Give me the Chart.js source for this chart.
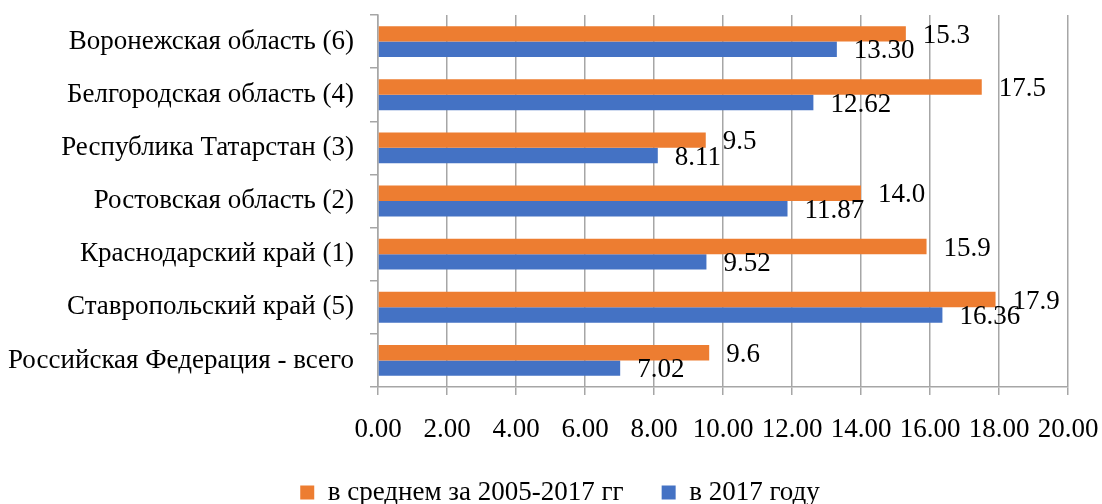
<!DOCTYPE html>
<html>
<head>
<meta charset="utf-8">
<script src="https://cdn.jsdelivr.net/npm/chart.js@4"></script>
<style>
html,body{margin:0;padding:0;background:#fff;}
#wrap{width:1102px;height:504px;position:relative;}
</style>
</head>
<body>
<div id="wrap"><canvas id="c" width="1102" height="504"></canvas></div>
<script>
const categories = [
  "Воронежская область (6)",
  "Белгородская область (4)",
  "Республика Татарстан (3)",
  "Ростовская область (2)",
  "Краснодарский край (1)",
  "Ставропольский край (5)",
  "Российская Федерация - всего"
];
const seriesNames = ["в среднем за 2005-2017 гг", "в 2017 году"];
const avgValues = [15.3, 17.5, 9.5, 14.0, 15.9, 17.9, 9.6];
const y2017Values = [13.30, 12.62, 8.11, 11.87, 9.52, 16.36, 7.02];
const labelDecimals = [1, 2];
const xMin = 0, xMax = 20, xStep = 2;

const FONT = "'Liberation Serif', 'Times New Roman', serif";
const GRID = '#a6a6a6';

const labelPlugin = {
  id: 'valueLabels',
  afterDatasetsDraw(chart) {
    const ctx = chart.ctx;
    ctx.save();
    ctx.font = '27px ' + FONT;
    ctx.fillStyle = '#000';
    ctx.textAlign = 'left';
    ctx.textBaseline = 'middle';
    chart.data.datasets.forEach((ds, di) => {
      const meta = chart.getDatasetMeta(di);
      meta.data.forEach((el, i) => {
        const v = ds.data[i];
        ctx.fillText(v.toFixed(labelDecimals[di]), el.x + 17, el.y + 2);
      });
    });
    ctx.restore();
  }
};

const legendShift = {
  id: 'legendShift',
  afterLayout(chart) {
    const l = chart.legend;
    if (l) { l.left += 26; l.right += 26; }
  }
};

new Chart(document.getElementById('c'), {
  type: 'bar',
  data: {
    labels: categories,
    datasets: [
      { label: seriesNames[0], data: avgValues, backgroundColor: '#ED7D31', borderWidth: 0 },
      { label: seriesNames[1], data: y2017Values, backgroundColor: '#4472C4', borderWidth: 0 }
    ]
  },
  options: {
    indexAxis: 'y',
    responsive: false,
    animation: false,
    devicePixelRatio: 1,
    layout: { padding: { top: 15, right: 34, left: 0, bottom: -12 } },
    datasets: { bar: { categoryPercentage: 0.58, barPercentage: 1.0 } },
    scales: {
      x: {
        min: xMin, max: xMax,
        ticks: {
          stepSize: xStep,
          color: '#000',
          font: { family: FONT, size: 27 },
          padding: 19,
          maxRotation: 0,
          callback: (v) => Number(v).toFixed(2)
        },
        grid: { color: GRID, lineWidth: 1.5, tickLength: 8, drawTicks: true },
        border: { display: true, color: GRID, width: 1.5 },
        afterFit: (s) => { s.height = 54; s.paddingLeft = 0; s.paddingRight = 0; }
      },
      y: {
        ticks: {
          color: '#000',
          font: { family: FONT, size: 27 },
          padding: 16
        },
        grid: { color: GRID, lineWidth: 1.5, drawOnChartArea: false, tickLength: 8, offset: true },
        border: { display: true, color: GRID, width: 1.5 },
        afterFit: (s) => { s.width = 378; s.paddingTop = 0; s.paddingBottom = 0; }
      }
    },
    plugins: {
      legend: {
        position: 'bottom',
        labels: {
          color: '#000',
          font: { family: FONT, size: 27 },
          boxWidth: 14,
          boxHeight: 14,
          padding: 38
        }
      },
      tooltip: { enabled: false }
    }
  },
  plugins: [labelPlugin, legendShift]
});
</script>
</body>
</html>
